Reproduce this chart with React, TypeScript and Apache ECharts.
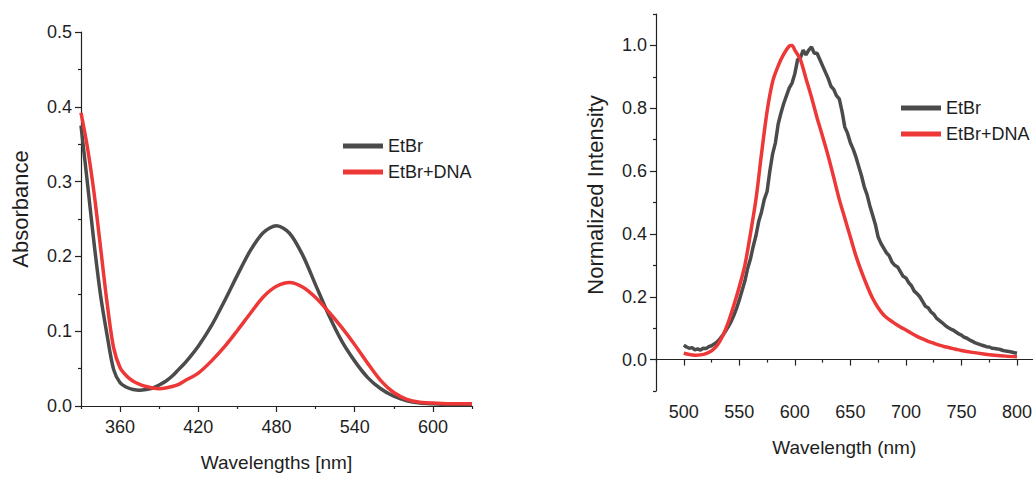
import React, { useEffect, useRef } from "react";
import * as echarts from "echarts";

// ---------- Absorbance (left) ----------
const absWl = [330, 335, 340, 345, 350, 355, 360, 365, 370, 375, 380, 385, 390, 395, 400, 405, 410, 420, 430, 440, 450, 460, 470, 480, 490, 500, 510, 520, 530, 540, 550, 560, 570, 580, 590, 600, 615, 630];
const absEtBr = [0.375, 0.297, 0.218, 0.148, 0.095, 0.049, 0.031, 0.025, 0.022, 0.021, 0.022, 0.024, 0.028, 0.033, 0.040, 0.049, 0.058, 0.080, 0.107, 0.140, 0.175, 0.208, 0.232, 0.241, 0.231, 0.202, 0.162, 0.122, 0.087, 0.060, 0.038, 0.023, 0.013, 0.007, 0.004, 0.003, 0.002, 0.002];
const absEtBrDNA = [0.392, 0.345, 0.285, 0.212, 0.138, 0.078, 0.051, 0.040, 0.033, 0.029, 0.026, 0.024, 0.023, 0.024, 0.026, 0.029, 0.034, 0.044, 0.060, 0.079, 0.101, 0.124, 0.146, 0.160, 0.165, 0.159, 0.145, 0.126, 0.105, 0.082, 0.057, 0.034, 0.018, 0.009, 0.005, 0.004, 0.003, 0.003];
const absXMajor = [360, 420, 480, 540, 600];
const absXMinor = [330, 390, 450, 510, 570, 630];

// ---------- Emission (right) ----------
const emWlGray = [500, 502.5, 505, 507.5, 510, 512.5, 515, 517.5, 520, 522.5, 525, 527.5, 530, 532.5, 535, 537.5, 540, 542.5, 545, 547.5, 550, 552.5, 555, 557.5, 560, 562.5, 565, 567.5, 570, 572.5, 575, 577.5, 580, 582.5, 585, 587.5, 590, 592.5, 595, 597.5, 600, 602.5, 605, 607.5, 610, 612.5, 615, 617.5, 620, 622.5, 625, 627.5, 630, 632.5, 635, 637.5, 640, 642.5, 645, 647.5, 650, 652.5, 655, 657.5, 660, 662.5, 665, 667.5, 670, 672.5, 675, 677.5, 680, 682.5, 685, 687.5, 690, 692.5, 695, 697.5, 700, 702.5, 705, 707.5, 710, 712.5, 715, 717.5, 720, 722.5, 725, 727.5, 730, 732.5, 735, 737.5, 740, 742.5, 745, 747.5, 750, 752.5, 755, 757.5, 760, 762.5, 765, 767.5, 770, 772.5, 775, 777.5, 780, 782.5, 785, 787.5, 790, 792.5, 795, 797.5, 800];
const emEtBr = [0.046, 0.040, 0.036, 0.038, 0.031, 0.034, 0.030, 0.036, 0.035, 0.041, 0.044, 0.050, 0.056, 0.066, 0.077, 0.090, 0.104, 0.120, 0.140, 0.163, 0.190, 0.220, 0.250, 0.290, 0.320, 0.360, 0.395, 0.440, 0.470, 0.510, 0.535, 0.600, 0.655, 0.690, 0.750, 0.785, 0.815, 0.840, 0.865, 0.880, 0.910, 0.955, 0.960, 0.985, 0.970, 0.985, 0.995, 0.975, 0.975, 0.955, 0.935, 0.915, 0.895, 0.870, 0.860, 0.840, 0.830, 0.790, 0.740, 0.720, 0.690, 0.670, 0.645, 0.615, 0.585, 0.550, 0.525, 0.490, 0.460, 0.430, 0.390, 0.370, 0.355, 0.340, 0.330, 0.310, 0.300, 0.295, 0.280, 0.265, 0.260, 0.245, 0.235, 0.218, 0.210, 0.200, 0.185, 0.170, 0.165, 0.152, 0.145, 0.132, 0.125, 0.118, 0.110, 0.103, 0.098, 0.094, 0.088, 0.082, 0.078, 0.071, 0.068, 0.062, 0.058, 0.053, 0.050, 0.047, 0.044, 0.041, 0.040, 0.036, 0.035, 0.034, 0.032, 0.029, 0.027, 0.026, 0.024, 0.022, 0.020];
const emWlRed = [500, 505, 510, 515, 520, 525, 530, 535, 540, 545, 550, 555, 560, 565, 570, 575, 580, 585, 590, 595, 597.5, 600, 605, 610, 615, 620, 625, 630, 635, 640, 645, 650, 655, 660, 665, 670, 675, 680, 685, 690, 695, 700, 705, 710, 715, 720, 725, 730, 735, 740, 745, 750, 760, 770, 780, 790, 800];
const emEtBrDNA = [0.020, 0.016, 0.014, 0.015, 0.019, 0.028, 0.045, 0.075, 0.118, 0.172, 0.232, 0.300, 0.400, 0.510, 0.655, 0.790, 0.885, 0.935, 0.972, 0.998, 1.000, 0.985, 0.955, 0.895, 0.835, 0.770, 0.710, 0.648, 0.580, 0.510, 0.450, 0.390, 0.330, 0.280, 0.235, 0.195, 0.165, 0.142, 0.127, 0.115, 0.104, 0.094, 0.084, 0.074, 0.066, 0.058, 0.052, 0.046, 0.041, 0.037, 0.033, 0.029, 0.023, 0.018, 0.014, 0.011, 0.009];
const emXMajor = [500, 550, 600, 650, 700, 750, 800];
const emXMinor = [475, 525, 575, 625, 675, 725, 775];
const emYMajor = [0, 0.2, 0.4, 0.6, 0.8, 1.0];
const emYMinor = [-0.1, 0.1, 0.3, 0.5, 0.7, 0.9, 1.1];

const seriesNames = ["EtBr", "EtBr+DNA"];

const FONT = '"Liberation Sans", Arial, Helvetica, sans-serif';
const TXT = "#1e1e1e";
const AXIS = "#222222";
const GRAY = "#4b4b4b";
const RED = "#ee3737";

export default function App() {
  const ref = useRef<HTMLDivElement>(null);

  useEffect(() => {
    if (!ref.current) return;
    const chart = echarts.init(ref.current, undefined, { renderer: "svg" });

    const axisLine = { show: true, lineStyle: { color: AXIS, width: 1.2 } };
    const tickStyle = { color: AXIS, width: 1.2 };
    const labelStyle = { fontSize: 18, color: TXT, fontFamily: FONT };

    const legendBase = {
      data: seriesNames,
      orient: "vertical" as const,
      icon: "rect",
      itemWidth: 40,
      itemHeight: 5,
      itemGap: 8,
      textStyle: { fontSize: 18, color: TXT, fontFamily: FONT },
      selectedMode: false,
    };

    const option: any = {
      animation: false,
      backgroundColor: "#ffffff",
      textStyle: { fontFamily: FONT },
      grid: [
        { left: 81, top: 32, width: 391, height: 377 },
        { left: 656, top: 14, width: 378, height: 377 },
      ],
      legend: [
        { ...legendBase, left: 338, top: 132 },
        { ...legendBase, left: 896, top: 94 },
      ],
      xAxis: [
        {
          gridIndex: 0, type: "value", position: "bottom", min: 330, max: 630,
          name: "Wavelengths [nm]", nameLocation: "middle", nameGap: 47,
          nameTextStyle: { fontSize: 19, color: TXT, fontFamily: FONT },
          axisLine,
          axisTick: { show: true, customValues: absXMajor, length: 6, lineStyle: tickStyle },
          axisLabel: { ...labelStyle, customValues: absXMajor, margin: 12 },
          splitLine: { show: false },
        },
        {
          gridIndex: 0, type: "value", position: "bottom", min: 330, max: 630,
          axisLine: { show: false },
          axisTick: { show: true, customValues: absXMinor, length: 3, lineStyle: tickStyle },
          axisLabel: { show: false },
          splitLine: { show: false },
        },
        {
          gridIndex: 1, type: "value", position: "bottom", min: 475, max: 814,
          name: "Wavelength (nm)", nameLocation: "middle", nameGap: 47,
          nameTextStyle: { fontSize: 19, color: TXT, fontFamily: FONT },
          axisLine,
          axisTick: { show: true, customValues: emXMajor, length: 6, lineStyle: tickStyle },
          axisLabel: { ...labelStyle, customValues: emXMajor, margin: 12 },
          splitLine: { show: false },
        },
        {
          gridIndex: 1, type: "value", position: "bottom", min: 475, max: 814,
          axisLine: { show: false },
          axisTick: { show: true, customValues: emXMinor, length: 3, lineStyle: tickStyle },
          axisLabel: { show: false },
          splitLine: { show: false },
        },
      ],
      yAxis: [
        {
          gridIndex: 0, type: "value", position: "left", min: 0, max: 0.5, interval: 0.1,
          name: "Absorbance", nameLocation: "middle", nameGap: 50,
          nameTextStyle: { fontSize: 22, color: TXT, fontFamily: FONT, padding: [0, 0, 0, 20] },
          axisLine,
          axisTick: { show: true, length: 6, lineStyle: tickStyle },
          minorTick: { show: true, splitNumber: 2, length: 3, lineStyle: tickStyle },
          axisLabel: { ...labelStyle, margin: 9, formatter: (v: number) => v.toFixed(1) },
          splitLine: { show: false },
        },
        {
          gridIndex: 1, type: "value", position: "left", min: -0.1, max: 1.1,
          name: "Normalized Intensity", nameLocation: "middle", nameGap: 50,
          nameTextStyle: { fontSize: 22, color: TXT, fontFamily: FONT, padding: [0, 0, 0, 15] },
          axisLine,
          axisTick: { show: true, customValues: emYMajor, length: 6, lineStyle: tickStyle },
          axisLabel: { ...labelStyle, customValues: emYMajor, margin: 9, formatter: (v: number) => v.toFixed(1) },
          splitLine: { show: false },
        },
        {
          gridIndex: 1, type: "value", position: "left", min: -0.1, max: 1.1,
          axisLine: { show: false },
          axisTick: { show: true, customValues: emYMinor, length: 3, lineStyle: tickStyle },
          axisLabel: { show: false },
          splitLine: { show: false },
        },
      ],
      series: [
        {
          type: "line", name: seriesNames[0], xAxisIndex: 0, yAxisIndex: 0,
          data: absWl.map((w, i) => [w, absEtBr[i]]),
          symbol: "none", showSymbol: false, smooth: 0.3,
          lineStyle: { color: GRAY, width: 3.5 }, itemStyle: { color: GRAY },
        },
        {
          type: "line", name: seriesNames[1], xAxisIndex: 0, yAxisIndex: 0,
          data: absWl.map((w, i) => [w, absEtBrDNA[i]]),
          symbol: "none", showSymbol: false, smooth: 0.3,
          lineStyle: { color: RED, width: 3.5 }, itemStyle: { color: RED },
        },
        {
          type: "line", name: seriesNames[0], xAxisIndex: 2, yAxisIndex: 1,
          data: emWlGray.map((w, i) => [w, emEtBr[i]]),
          symbol: "none", showSymbol: false,
          lineStyle: { color: GRAY, width: 3.5 }, itemStyle: { color: GRAY },
        },
        {
          type: "line", name: seriesNames[1], xAxisIndex: 2, yAxisIndex: 1,
          data: emWlRed.map((w, i) => [w, emEtBrDNA[i]]),
          symbol: "none", showSymbol: false, smooth: 0.3,
          lineStyle: { color: RED, width: 3.5 }, itemStyle: { color: RED },
        },
      ],
    };

    chart.setOption(option);
    return () => chart.dispose();
  }, []);

  return (
    <div
      ref={ref}
      style={{ position: "fixed", left: 0, top: 0, width: 1035, height: 477, background: "#fff" }}
    />
  );
}
